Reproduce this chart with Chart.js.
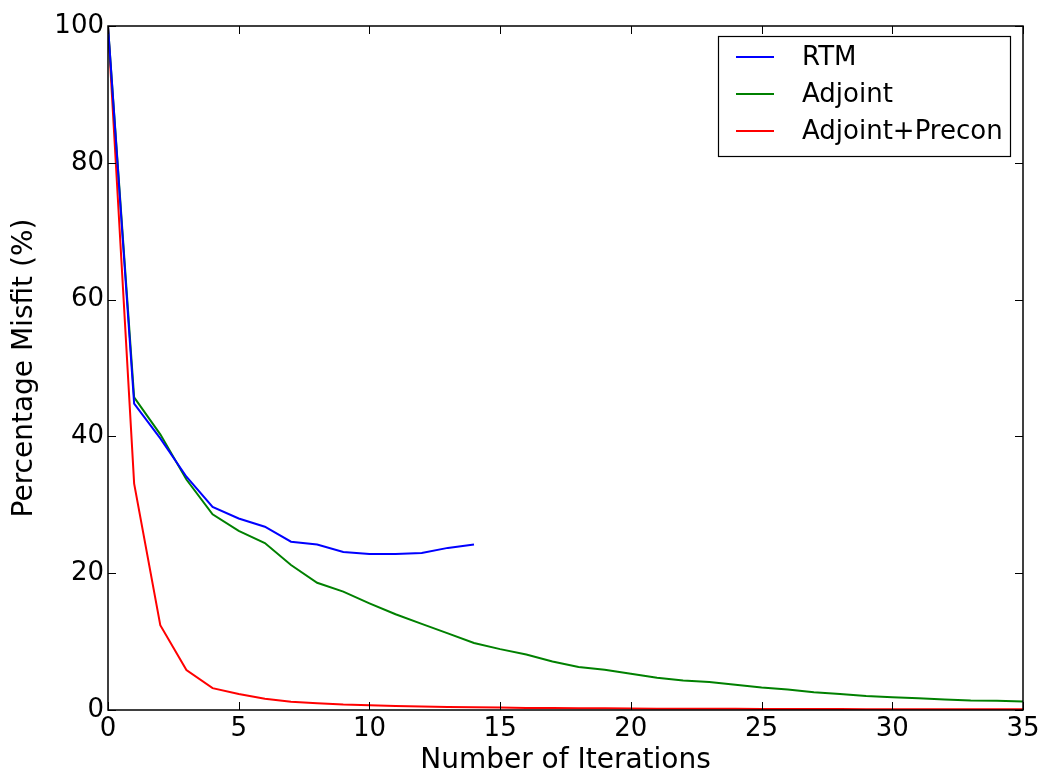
<!DOCTYPE html>
<html>
<head>
<meta charset="utf-8">
<script src="https://cdn.jsdelivr.net/npm/chart.js@4/dist/chart.umd.min.js"></script>
<style>
  html, body { margin: 0; padding: 0; background: #fff; }
</style>
</head>
<body>
<canvas id="misfitChart" width="1049" height="779"></canvas>
<script>
//-- Data
const iterations = [0, 1, 2, 3, 4, 5, 6, 7, 8, 9, 10, 11, 12, 13, 14, 15, 16, 17, 18, 19, 20, 21, 22, 23, 24, 25, 26, 27, 28, 29, 30, 31, 32, 33, 34, 35];
const rtmMisfit = [100, 44.8, 39.7, 34.1, 29.7, 28.0, 26.8, 24.6, 24.2, 23.1, 22.8, 22.8, 22.95, 23.7, 24.2];
const adjointMisfit = [100, 45.7, 40.3, 33.7, 28.6, 26.2, 24.4, 21.2, 18.6, 17.3, 15.6, 14.0, 12.6, 11.2, 9.8, 8.9, 8.1, 7.1, 6.3, 5.9, 5.3, 4.7, 4.3, 4.1, 3.7, 3.3, 3.0, 2.6, 2.35, 2.05, 1.85, 1.7, 1.55, 1.4, 1.35, 1.25];
const preconMisfit = [100, 33.1, 12.4, 5.85, 3.2, 2.35, 1.65, 1.2, 1.0, 0.8, 0.7, 0.6, 0.5, 0.45, 0.4, 0.35, 0.3, 0.28, 0.26, 0.24, 0.22, 0.2, 0.19, 0.18, 0.17, 0.16, 0.15, 0.14, 0.13, 0.12, 0.11, 0.1, 0.1, 0.1, 0.1, 0.1];
const seriesNames = ["RTM", "Adjoint", "Adjoint+Precon"];
const seriesColours = ["#0000ff", "#008000", "#ff0000"];
const xTicks = { min: 0, max: 35, step: 5 };
const yTicks = { min: 0, max: 100, step: 20 };

//turns a list of y values into points against the iteration number
var toPoints = function(values) {
    let pts = [];
    for (let i = 0; i < values.length; i++) {
        pts.push({ x: iterations[i], y: values[i] });
    }
    return pts;
}

var makeDataset = function(values, idx) {
    return {
        label: seriesNames[idx],
        data: toPoints(values),
        borderColor: seriesColours[idx],
        backgroundColor: seriesColours[idx],
        borderWidth: 2,
        pointRadius: 0,
        fill: false,
        tension: 0
    };
}

//matplotlib style frame: box round the plot, ticks pointing inward on all sides
const frameAndTicks = {
    id: 'frameAndTicks',
    afterDatasetsDraw(chart) {
        const ctx = chart.ctx;
        const a = chart.chartArea;
        const xs = chart.scales.x;
        const ys = chart.scales.y;
        const tickLen = 8;
        ctx.save();
        ctx.strokeStyle = '#000';
        ctx.lineWidth = 1;
        xs.ticks.forEach(t => {
            let px = Math.round(xs.getPixelForValue(t.value)) + 0.5;
            ctx.beginPath();
            ctx.moveTo(px, a.bottom); ctx.lineTo(px, a.bottom - tickLen);
            ctx.moveTo(px, a.top); ctx.lineTo(px, a.top + tickLen);
            ctx.stroke();
        });
        ys.ticks.forEach(t => {
            let py = Math.round(ys.getPixelForValue(t.value)) + 0.5;
            ctx.beginPath();
            ctx.moveTo(a.left, py); ctx.lineTo(a.left + tickLen, py);
            ctx.moveTo(a.right, py); ctx.lineTo(a.right - tickLen, py);
            ctx.stroke();
        });
        ctx.lineWidth = 1.5;
        ctx.strokeRect(a.left, a.top, a.right - a.left, a.bottom - a.top);
        ctx.restore();
    }
};

//legend box in the upper right corner of the plot
const cornerLegend = {
    id: 'cornerLegend',
    afterDraw(chart) {
        const ctx = chart.ctx;
        const a = chart.chartArea;
        const boxW = 292, boxH = 120;
        const bx = a.right - 13 - boxW;
        const by = a.top + 10;
        ctx.save();
        ctx.fillStyle = '#fff';
        ctx.fillRect(bx, by, boxW, boxH);
        ctx.strokeStyle = '#000';
        ctx.lineWidth = 1.2;
        ctx.strokeRect(bx + 0.5, by + 0.5, boxW, boxH);
        ctx.font = '26px "DejaVu Sans"';
        ctx.textBaseline = 'middle';
        ctx.textAlign = 'left';
        chart.data.datasets.forEach((ds, i) => {
            let rowY = by + 21 + i * 37;
            ctx.strokeStyle = ds.borderColor;
            ctx.lineWidth = 2;
            ctx.beginPath();
            ctx.moveTo(bx + 18, rowY);
            ctx.lineTo(bx + 56, rowY);
            ctx.stroke();
            ctx.fillStyle = '#000';
            ctx.fillText(ds.label, bx + 84, rowY + 1);
        });
        ctx.restore();
    }
};

Chart.defaults.font.family = '"DejaVu Sans", sans-serif';
Chart.defaults.color = '#000';

var chart = new Chart(document.getElementById("misfitChart"), {
    type: 'line',
    data: {
        datasets: [makeDataset(rtmMisfit, 0), makeDataset(adjointMisfit, 1), makeDataset(preconMisfit, 2)]
    },
    options: {
        responsive: false,
        animation: false,
        devicePixelRatio: 1,
        layout: { padding: { top: 26, right: 26, left: 0, bottom: 0 } },
        plugins: {
            legend: { display: false },
            tooltip: { enabled: false }
        },
        scales: {
            x: {
                type: 'linear',
                min: xTicks.min,
                max: xTicks.max,
                afterFit: s => { s.height = 69; },
                ticks: { stepSize: xTicks.step, font: { size: 26 }, padding: 4, maxRotation: 0 },
                grid: { display: false, drawTicks: false },
                border: { display: false },
                title: { display: true, text: 'Number of Iterations', font: { size: 28 }, padding: { top: 0, bottom: 1 } }
            },
            y: {
                type: 'linear',
                min: yTicks.min,
                max: yTicks.max,
                afterFit: s => { s.width = 108; },
                ticks: { stepSize: yTicks.step, font: { size: 26 }, padding: 4 },
                grid: { display: false, drawTicks: false },
                border: { display: false },
                title: { display: true, text: 'Percentage Misfit (%)', font: { size: 28 }, padding: { top: 8, bottom: 0 } }
            }
        }
    },
    plugins: [frameAndTicks, cornerLegend]
});
</script>
</body>
</html>
